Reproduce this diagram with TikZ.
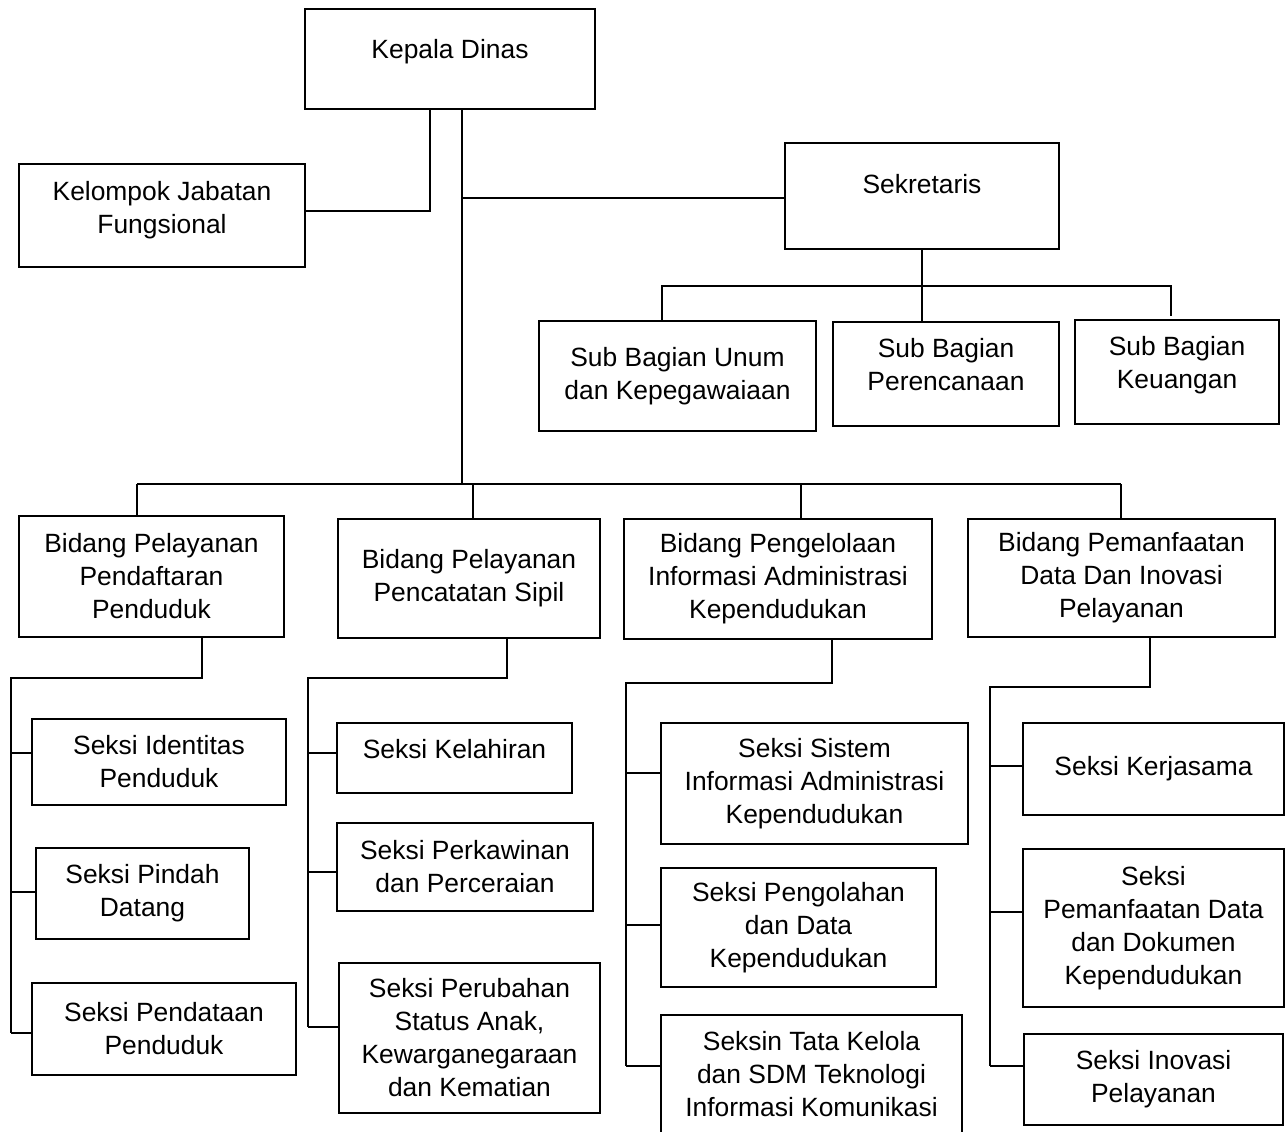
\documentclass[tikz,border=0pt]{standalone}
\usepackage{fontspec}
\setmainfont{Liberation Sans}
\tikzset{
  orgbox/.style={draw, line width=1.25pt, align=center, inner sep=0pt,
    font=\fontsize{13.2pt}{16.5pt}\selectfont},
  wh/.style 2 args={minimum width=#1*0.5pt, minimum height=#2*0.5pt},
  lift/.style={text depth=#1},
  link/.style={line width=0.65pt},
}
\begin{document}
\begin{tikzpicture}[x=0.5pt, y=-0.5pt]
    % Canvas, measured in pixels of the chart
    \fill[white] (0,0) rectangle (1288,1131);
    \useasboundingbox (0,0) rectangle (1288,1131);

    % Head, functional group and secretary
    \node[orgbox, wh={290}{100}, lift=10.5pt] (kadis) at (450,59) {Kepala Dinas};
    \node[orgbox, wh={286}{103}, lift=8.5pt] (kjf) at (162,215.5) {Kelompok Jabatan\\Fungsional};
    \node[orgbox, wh={274}{106}, lift=12.5pt] (sekre) at (922,196) {Sekretaris};

    % Sub sections under the secretary
    \node[orgbox, wh={277}{110}] (umum) at (677.5,376) {Sub Bagian Unum\\dan Kepegawaiaan};
    \node[orgbox, wh={226}{104}, lift=10pt] (renc) at (946,374) {Sub Bagian\\Perencanaan};
    \node[orgbox, wh={204}{104}, lift=10pt] (keu) at (1177,372) {Sub Bagian\\Keuangan};

    % Fields
    \node[orgbox, wh={265}{121}] (daftar) at (151.5,576.5) {Bidang Pelayanan\\Pendaftaran\\Penduduk};
    \node[orgbox, wh={262}{119}] (capil) at (469,578.5) {Bidang Pelayanan\\Pencatatan Sipil};
    \node[orgbox, wh={308}{120}] (pias) at (778,579) {Bidang Pengelolaan\\Informasi Administrasi\\Kependudukan};
    \node[orgbox, wh={307}{118}] (pdip) at (1121.5,578) {Bidang Pemanfaatan\\Data Dan Inovasi\\Pelayanan};

    % Sections of each field
    \node[orgbox, wh={254}{86}] (idt) at (159,762) {Seksi Identitas\\Penduduk};
    \node[orgbox, wh={213}{91}] (pindah) at (142.5,893.5) {Seksi Pindah\\Datang};
    \node[orgbox, wh={264}{92}] (pdt) at (164,1029) {Seksi Pendataan\\Penduduk};

    \node[orgbox, wh={235}{70}, lift=9.5pt] (lahir) at (454.5,758) {Seksi Kelahiran};
    \node[orgbox, wh={256}{88}] (kawin) at (465,867) {Seksi Perkawinan\\dan Perceraian};
    \node[orgbox, wh={261}{150}] (ubah) at (469.5,1038) {Seksi Perubahan\\Status Anak,\\Kewarganegaraan\\dan Kematian};

    \node[orgbox, wh={307}{121}] (sistem) at (814.5,783.5) {Seksi Sistem\\Informasi Administrasi\\Kependudukan};
    \node[orgbox, wh={275}{119}] (olah) at (798.5,927.5) {Seksi Pengolahan\\dan Data\\Kependudukan};
    \node[orgbox, wh={301}{118}] (tata) at (811.5,1074) {Seksin Tata Kelola\\dan SDM Teknologi\\Informasi Komunikasi};

    \node[orgbox, wh={261}{92}] (kerja) at (1153.5,769) {Seksi Kerjasama};
    \node[orgbox, wh={261}{158}] (manfaat) at (1153.5,928) {Seksi\\Pemanfaatan Data\\dan Dokumen\\Kependudukan};
    \node[orgbox, wh={259}{91}] (inov) at (1153.5,1079.5) {Seksi Inovasi\\Pelayanan};

    % Lines from the head
    \coordinate (trunk) at (462,484);
    \draw[link] (kadis.south -| trunk) -- (trunk);
    \draw[link] (kadis.south -| 430,0) -- (430,211) -- (kjf.east |- 0,211);
    \draw[link] (462,198) -- (sekre.west |- 0,198);

    % Secretary bar
    \coordinate (sbL) at (662,286);
    \coordinate (sbR) at (1171,286);
    \draw[link] (sekre.south) -- (sekre.south |- renc.north);
    \draw[link] (sbL |- umum.north) -- (sbL) -- (sbR) -- ++(0,30);

    % Field bar
    \draw[link] (137,484) -- (1121,484);
    \foreach \n/\x in {daftar/137, capil/473, pias/801, pdip/1121}
        \draw[link] (\x,484) -- (\n.north -| \x,0);

    % Section spines
    \draw[link] (daftar.south -| 202,0) |- (11,678) -- (11,1033);
    \foreach \n/\y in {idt/753, pindah/892, pdt/1033}
        \draw[link] (11,\y) -- (\n.west |- 0,\y);

    \draw[link] (capil.south -| 507,0) |- (308,678) -- (308,1027);
    \foreach \n/\y in {lahir/753, kawin/872, ubah/1027}
        \draw[link] (308,\y) -- (\n.west |- 0,\y);

    \draw[link] (pias.south -| 832,0) |- (626,683) -- (626,1066);
    \foreach \n/\y in {sistem/773, olah/925, tata/1066}
        \draw[link] (626,\y) -- (\n.west |- 0,\y);

    \draw[link] (pdip.south -| 1150,0) |- (990,687) -- (990,1066);
    \foreach \n/\y in {kerja/766, manfaat/912, inov/1066}
        \draw[link] (990,\y) -- (\n.west |- 0,\y);
\end{tikzpicture}
\end{document}
